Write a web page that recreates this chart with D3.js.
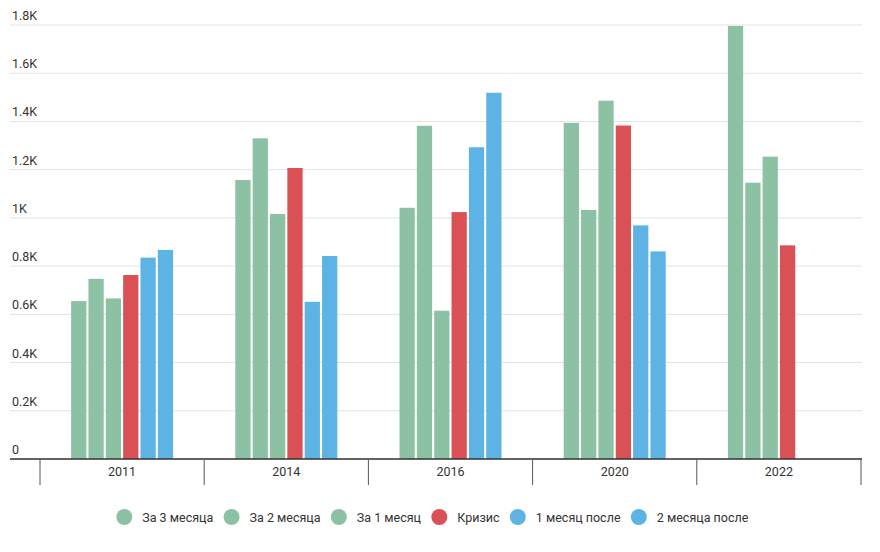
<!DOCTYPE html>
<html>
<head>
<meta charset="utf-8">
<script src="https://cdn.jsdelivr.net/npm/d3@7"></script>
<style>
  body { margin: 0; background: #fff; }
  svg text { font-family: Roboto, "Noto Sans", sans-serif; }
</style>
</head>
<body>
<div id="chart"></div>
<script>
// data
const years = ["2011", "2014", "2016", "2020", "2022"];
const seriesNames = ["За 3 месяца", "За 2 месяца", "За 1 месяц", "Кризис", "1 месяц после", "2 месяца после"];
const seriesColors = ["#8dc1a4", "#8dc1a4", "#8dc1a4", "#da5155", "#5db4e4", "#5db4e4"];
const za3 = [655, 1157, 1042, 1394, 1796];
const za2 = [747, 1330, 1382, 1033, 1146];
const za1 = [666, 1016, 615, 1486, 1254];
const krizis = [763, 1207, 1024, 1383, 886];
const posle1 = [835, 652, 1293, 969, null];
const posle2 = [867, 842, 1519, 861, null];
const yTicks = [0, 200, 400, 600, 800, 1000, 1200, 1400, 1600, 1800];

const values = [za3, za2, za1, krizis, posle1, posle2];

const width = 880, height = 552;
const plotLeft = 10, plotRight = 862, plotBottom = 459, plotTop = 25;

const svg = d3.select("#chart").append("svg")
  .attr("width", width)
  .attr("height", height);

const y = d3.scaleLinear().domain([0, 1800]).range([plotBottom, plotTop]);
const x = d3.scaleBand().domain(years).range([40, 861]).padding(0);
const bw = x.bandwidth();
const inner = d3.scaleBand()
  .domain(d3.range(seriesNames.length))
  .range([bw / 2 - 51, bw / 2 + 51])
  .paddingInner(0.12)
  .paddingOuter(0);

// gridlines + labels
const grid = svg.append("g");
grid.selectAll("line")
  .data(yTicks)
  .join("line")
    .attr("x1", plotLeft)
    .attr("x2", plotRight)
    .attr("y1", d => y(d))
    .attr("y2", d => y(d))
    .attr("stroke", "#e3e3e3")
    .attr("stroke-width", 1);
grid.selectAll("text")
  .data(yTicks)
  .join("text")
    .attr("x", 12)
    .attr("y", d => y(d) - 5)
    .attr("font-size", 12.5)
    .attr("fill", "#333")
    .text(d => d === 0 ? "0" : (d / 1000) + "K");

// bars
const rows = [];
years.forEach((yr, i) => {
  values.forEach((arr, s) => {
    if (arr[i] != null) rows.push({ year: yr, s: s, v: arr[i] });
  });
});

svg.append("g")
  .selectAll("rect")
  .data(rows)
  .join("rect")
    .attr("x", d => x(d.year) + inner(d.s))
    .attr("width", inner.bandwidth())
    .attr("y", d => y(d.v))
    .attr("height", d => y(0) - y(d.v))
    .attr("fill", d => seriesColors[d.s]);

// x axis
const xAxis = svg.append("g");
xAxis.append("line")
  .attr("x1", plotLeft)
  .attr("x2", plotRight)
  .attr("y1", plotBottom)
  .attr("y2", plotBottom)
  .attr("stroke", "#333")
  .attr("stroke-width", 1.5);
const edges = years.map(d => x(d)).concat([x(years[years.length - 1]) + bw]);
xAxis.selectAll(".tk")
  .data(edges)
  .join("line")
    .attr("class", "tk")
    .attr("x1", d => d)
    .attr("x2", d => d)
    .attr("y1", plotBottom)
    .attr("y2", 485)
    .attr("stroke", "#555")
    .attr("stroke-width", 1);
xAxis.selectAll("text")
  .data(years)
  .join("text")
    .attr("x", d => x(d) + bw / 2)
    .attr("y", 476)
    .attr("text-anchor", "middle")
    .attr("font-size", 12.5)
    .attr("fill", "#333")
    .text(d => d);

// legend
const legend = svg.append("g");
const items = legend.selectAll("g")
  .data(seriesNames)
  .join("g");
items.append("circle")
  .attr("r", 8)
  .attr("cy", 0)
  .attr("fill", (d, i) => seriesColors[i]);
items.append("text")
  .attr("x", 18)
  .attr("y", 4.5)
  .attr("font-size", 12.5)
  .attr("fill", "#333")
  .text(d => d);
let cx = 0;
items.each(function () {
  const tw = d3.select(this).select("text").node().getComputedTextLength();
  d3.select(this).attr("transform", `translate(${cx},517)`);
  cx += 18 + tw + 18.3;
});
const total = cx - 18.3 + 8;
legend.attr("transform", `translate(${432.3 - total / 2 + 8},0)`);
</script>
</body>
</html>
